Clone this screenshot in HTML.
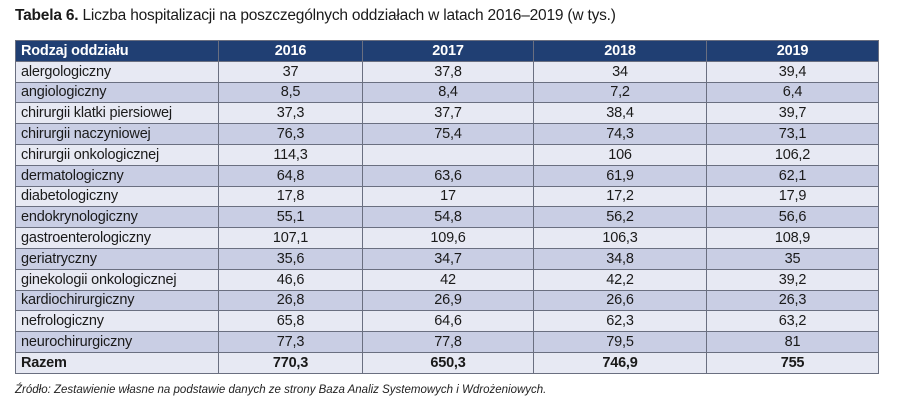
<!DOCTYPE html>
<html><head><meta charset="utf-8"><style>
body{margin:0;width:900px;height:409px;background:#fff;font-family:"Liberation Sans",sans-serif;color:#1a1a1a;position:relative;overflow:hidden}
#title{position:absolute;left:15px;top:7px;font-size:15.5px;letter-spacing:-0.2px}
#title b{font-weight:bold}
table{position:absolute;left:15px;top:40px;width:863px;border-collapse:collapse;table-layout:fixed;font-size:14.5px;letter-spacing:-0.2px}
td,th{height:20.8px;padding:0 5px;border:1px solid #6a6f80;line-height:18px;box-sizing:border-box;white-space:nowrap}
th{background:#203f73;color:#fff;font-weight:bold;text-align:center}
th:first-child{text-align:left}
td{text-align:center}
td:first-child{text-align:left}
tr.l td{background:#e7e9f3}
tr.d td{background:#c9cee4}
tr.t td{font-weight:bold}
#src{position:absolute;left:15px;top:384px;font-size:11.5px;font-style:italic;color:#222}
</style></head><body>
<div id="title"><b>Tabela 6.</b> Liczba hospitalizacji na poszczególnych oddziałach w latach 2016–2019 (w tys.)</div>
<table>
<colgroup><col style="width:203px"><col style="width:144px"><col style="width:171px"><col style="width:173px"><col style="width:172px"></colgroup>
<tr><th>Rodzaj oddziału</th><th>2016</th><th>2017</th><th>2018</th><th>2019</th></tr>
<tr class="l"><td>alergologiczny</td><td>37</td><td>37,8</td><td>34</td><td>39,4</td></tr>
<tr class="d"><td>angiologiczny</td><td>8,5</td><td>8,4</td><td>7,2</td><td>6,4</td></tr>
<tr class="l"><td>chirurgii klatki piersiowej</td><td>37,3</td><td>37,7</td><td>38,4</td><td>39,7</td></tr>
<tr class="d"><td>chirurgii naczyniowej</td><td>76,3</td><td>75,4</td><td>74,3</td><td>73,1</td></tr>
<tr class="l"><td>chirurgii onkologicznej</td><td>114,3</td><td></td><td>106</td><td>106,2</td></tr>
<tr class="d"><td>dermatologiczny</td><td>64,8</td><td>63,6</td><td>61,9</td><td>62,1</td></tr>
<tr class="l"><td>diabetologiczny</td><td>17,8</td><td>17</td><td>17,2</td><td>17,9</td></tr>
<tr class="d"><td>endokrynologiczny</td><td>55,1</td><td>54,8</td><td>56,2</td><td>56,6</td></tr>
<tr class="l"><td>gastroenterologiczny</td><td>107,1</td><td>109,6</td><td>106,3</td><td>108,9</td></tr>
<tr class="d"><td>geriatryczny</td><td>35,6</td><td>34,7</td><td>34,8</td><td>35</td></tr>
<tr class="l"><td>ginekologii onkologicznej</td><td>46,6</td><td>42</td><td>42,2</td><td>39,2</td></tr>
<tr class="d"><td>kardiochirurgiczny</td><td>26,8</td><td>26,9</td><td>26,6</td><td>26,3</td></tr>
<tr class="l"><td>nefrologiczny</td><td>65,8</td><td>64,6</td><td>62,3</td><td>63,2</td></tr>
<tr class="d"><td>neurochirurgiczny</td><td>77,3</td><td>77,8</td><td>79,5</td><td>81</td></tr>
<tr class="l t"><td>Razem</td><td>770,3</td><td>650,3</td><td>746,9</td><td>755</td></tr>
</table>
<div id="src">Źródło: Zestawienie własne na podstawie danych ze strony Baza Analiz Systemowych i Wdrożeniowych.</div>
</body></html>
